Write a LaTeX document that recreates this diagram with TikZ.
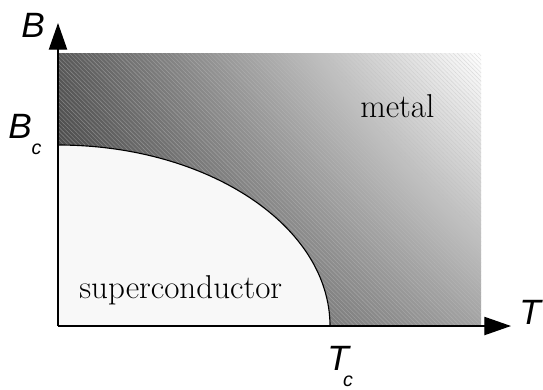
\documentclass[tikz,border=0pt]{standalone}
\usepackage{fontspec}
\newfontfamily\axisfont{Liberation Sans}
\usetikzlibrary{arrows.meta,patterns,shadings}
\definecolor{metaldark}{HTML}{363636}
\definecolor{metalmid}{HTML}{585858}
\definecolor{metallow}{HTML}{A2A2A2}
\definecolor{metallight}{HTML}{FFFFFF}
\definecolor{scfill}{HTML}{F8F8F8}
\newcommand{\critsub}[1]{\raisebox{-12pt}{\fontsize{14}{14}\selectfont #1}}
\tikzset{
  axisline/.style={black, line width=1pt, -{Triangle[length=19pt,width=13pt]}},
  phaseline/.style={black, line width=0.8pt},
  axislabel/.style={font=\axisfont\itshape\fontsize{25}{25}\selectfont, inner sep=0pt},
  regionlabel/.style={font=\fontsize{23.5}{25}\selectfont, inner sep=0pt}
}
\begin{document}
\begin{tikzpicture}[x=0.025cm, y=-0.025cm]
  \useasboundingbox (0,0) rectangle (543,389);
  % metal region
  \shade[lower left=metaldark, upper left=metalmid, upper right=metallight, lower right=metallow]
    (58,326) rectangle (481,53);
  \fill[pattern=north west lines, pattern color=black!25, opacity=0.4]
    (58,326) rectangle (481,53);
  % superconducting region
  \coordinate (O) at (58,326);
  \fill[scfill] (O) -- (58,145) arc[start angle=90, end angle=0, x radius=272, y radius=-181] -- cycle;
  \draw[phaseline] (58,145) arc[start angle=90, end angle=0, x radius=272, y radius=-181];
  % axes
  \coordinate (Btip) at (58,23);
  \coordinate (Ttip) at (511,326);
  \draw[axisline] (O) -- (Btip);
  \draw[axisline] (O) -- (Ttip);
  % labels
  \node[axislabel] (B) at (33,25) {B};
  \node[axislabel, anchor=base west] (Bc) at (8,138) {B\critsub{c}};
  \node[axislabel] (T) at (530,312) {T};
  \node[axislabel, anchor=base west] (Tc) at (327,370) {T\kern-4pt\critsub{c}};
  \node[regionlabel, anchor=base west] (metal) at (360,117) {metal};
  \node[regionlabel, anchor=base west] (sc) at (79,298) {superconductor};
\end{tikzpicture}
\end{document}
